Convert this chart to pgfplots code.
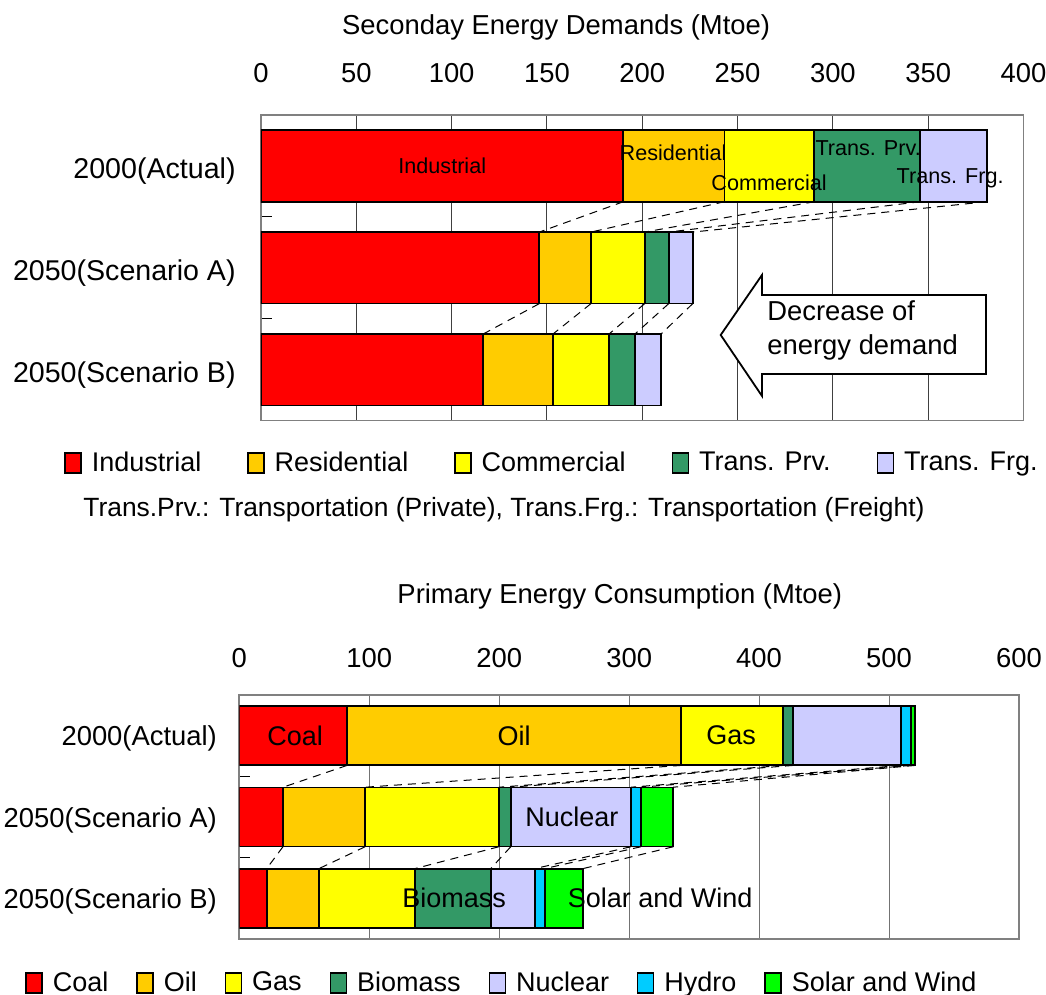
\documentclass[border=0pt]{standalone}
\usepackage{pgfplots}
\usepackage{pgfplotstable}
\pgfplotsset{compat=1.18}
\usepackage{fontspec}
\setmainfont{Liberation Sans}

\definecolor{cRed}{HTML}{FF0000}
\definecolor{cOrange}{HTML}{FFCC00}
\definecolor{cYellow}{HTML}{FFFF00}
\definecolor{cGreen}{HTML}{339966}
\definecolor{cLav}{HTML}{CCCCFF}
\definecolor{cCyan}{HTML}{00CCFF}
\definecolor{cLime}{HTML}{00FF00}

\newcommand{\bigfont}{\fontsize{13.7}{16}\selectfont}
\newcommand{\catfont}{\fontsize{14.3}{17}\selectfont}
\newcommand{\legfont}{\fontsize{13.5}{16}\selectfont}
\newcommand{\smallfont}{\fontsize{10.8}{13}\selectfont}

% Secondary energy demand (Mtoe); cat: 0 = 2000, 1 = 2050 A, 2 = 2050 B
\pgfplotstableread{
cat Industrial Residential Commercial TransPrv TransFrg
0   190.1      53.0        47.2       55.6     34.8
1   146.0      27.1        28.2       12.6     12.6
2   116.6      36.6        29.4       13.6     13.7
}\secondary

% Primary energy consumption (Mtoe)
\pgfplotstableread{
cat Coal  Oil   Gas   Biomass Nuclear Hydro Solar
0   82.9  257.1 78.6  7.6     83.2    7.6   3.1
1   33.6  63.2  102.9 9.2     92.4    7.7   24.9
2   21.1  40.3  73.9  58.2    34.1    7.7   29.3
}\primary

\pgfplotsset{
  framebase/.style={
    scale only axis,
    y dir=reverse,
    ymin=-0.5, ymax=2.5,
    xmin=0,
  },
  energybase/.style={
    framebase,
    xbar stacked,
    axis line style={black!50, line width=0.8pt},
    xmajorgrids,
    major grid style={black!75, line width=0.5pt},
    xticklabel pos=upper,
    xtick style={draw=none},
    xticklabel style={anchor=center, font=\bigfont},
    /pgf/number format/assume math mode=true,
    ytick={0.5,1.5,2.5}, yticklabels={},
    ytick pos=left, tick align=inside,
    major tick length=5.5pt,
    ytick style={black, line width=0.6pt},
    extra y ticks={0,1,2},
    extra y tick labels={2000(Actual),2050(Scenario A),2050(Scenario B)},
    extra y tick style={major tick length=0pt},
    yticklabel style={anchor=east, inner sep=0pt, font=\bigfont},
    every axis title shift=0pt,
    title style={font=\bigfont, anchor=center},
    every axis plot/.append style={draw=black, line width=0.9pt},
    legend image code/.code={\draw[#1, draw=black, line width=0.7pt] (0pt,-5pt) rectangle (8pt,5pt);},
    legend style={draw=none, fill=none, inner sep=0pt, anchor=west, font=\legfont,
      /tikz/every odd column/.append style={column sep=3pt}},
  },
  overlaybase/.style={
    framebase,
    hide axis,
    clip=false,
  },
  connector/.style={black, line width=0.5pt, dash pattern=on 4pt off 3pt, unbounded coords=jump},
}

\begin{document}
\begin{tikzpicture}
\path[use as bounding box] (0,0) rectangle (523pt,497.5pt);

% ---------- Secondary energy demands ----------
\begin{axis}[
  energybase,
  at={(130.5pt,287.15pt)}, anchor=south west,
  width=381.25pt, height=152.85pt,
  xmax=400, xtick={0,50,...,400},
  bar width=35.75pt,
  xticklabel style={yshift=21pt},
  yticklabel style={xshift=-12.5pt, yshift=-2.5pt, font=\catfont},
  title={Seconday Energy Demands (Mtoe)},
  title style={at={(axis description cs:0.387,1.288)}},
  legend columns=5,
  legend style={at={(axis description cs:-0.2584,-0.1384)},
    /tikz/every even column/.append style={column sep=21pt}},
]
\addplot[fill=cRed]    table[x=Industrial,  y=cat] {\secondary};
\addplot[fill=cOrange] table[x=Residential, y=cat] {\secondary};
\addplot[fill=cYellow] table[x=Commercial,  y=cat] {\secondary};
\addplot[fill=cGreen]  table[x=TransPrv,    y=cat] {\secondary};
\addplot[fill=cLav]    table[x=TransFrg,    y=cat] {\secondary};
\legend{Industrial, Residential, Commercial, Trans. Prv., Trans. Frg.}
\end{axis}

% links between segment ends, and segment names
\begin{axis}[
  overlaybase,
  at={(130.5pt,287.15pt)}, anchor=south west,
  width=381.25pt, height=152.85pt,
  xmax=400,
]
\addplot[connector] coordinates {
  (190.1,0.351) (146.0,0.649) (0,nan)
  (243.1,0.351) (173.1,0.649) (0,nan)
  (290.3,0.351) (201.3,0.649) (0,nan)
  (345.9,0.351) (213.9,0.649) (0,nan)
  (380.7,0.351) (226.5,0.649) (0,nan)
  (146.0,1.351) (116.6,1.649) (0,nan)
  (173.1,1.351) (153.2,1.649) (0,nan)
  (201.3,1.351) (182.6,1.649) (0,nan)
  (213.9,1.351) (196.2,1.649) (0,nan)
  (226.5,1.351) (209.9,1.649)
};
\node[font=\smallfont] at (axis cs:95.1,0)     {Industrial};
\node[font=\smallfont] at (axis cs:216.2,-0.127) {Residential};
\node[font=\smallfont] at (axis cs:266.5,0.167)  {Commercial};
\node[font=\smallfont] at (axis cs:318.5,-0.176) {Trans. Prv.};
\node[font=\smallfont] at (axis cs:361.5,0.118)  {Trans. Frg.};
\end{axis}

% block arrow
\draw[fill=white, draw=black, line width=0.9pt, line join=miter]
  (493pt,350pt) -- (381pt,350pt) -- (381pt,360pt) -- (360.35pt,330pt)
  -- (381pt,299.5pt) -- (381pt,310.5pt) -- (493pt,310.5pt) -- cycle;
\node[anchor=west, inner sep=0pt, align=left, font=\fontsize{13.7}{17}\selectfont]
  at (383.5pt,332.5pt) {Decrease of\\energy demand};

\node[anchor=west, inner sep=0pt, font=\fontsize{13.2}{16}\selectfont]
  at (41.5pt,242.5pt) {Trans.Prv.: Transportation (Private), Trans.Frg.: Transportation (Freight)};

% ---------- Primary energy consumption ----------
\begin{axis}[
  energybase,
  at={(119.65pt,28pt)}, anchor=south west,
  width=389.85pt, height=122pt,
  xmax=600, xtick={0,100,...,600},
  bar width=29.5pt,
  major grid style={black!55},
  xticklabel style={yshift=18.5pt},
  yticklabel style={xshift=-11pt, yshift=-1.5pt},
  title={Primary Energy Consumption (Mtoe)},
  title style={at={(axis description cs:0.488,1.402)}},
  legend columns=7,
  legend style={at={(axis description cs:-0.2748,-0.1803)},
    /tikz/every even column/.append style={column sep=12pt}},
]
\addplot[fill=cRed]    table[x=Coal,    y=cat] {\primary};
\addplot[fill=cOrange] table[x=Oil,     y=cat] {\primary};
\addplot[fill=cYellow] table[x=Gas,     y=cat] {\primary};
\addplot[fill=cGreen]  table[x=Biomass, y=cat] {\primary};
\addplot[fill=cLav]    table[x=Nuclear, y=cat] {\primary};
\addplot[fill=cCyan]   table[x=Hydro,   y=cat] {\primary};
\addplot[fill=cLime]   table[x=Solar,   y=cat] {\primary};
\legend{Coal, Oil, Gas, Biomass, Nuclear, Hydro, Solar and Wind}
\end{axis}

\begin{axis}[
  overlaybase,
  at={(119.65pt,28pt)}, anchor=south west,
  width=389.85pt, height=122pt,
  xmax=600,
]
\addplot[connector] coordinates {
  (82.9,0.366)  (33.6,0.634)  (0,nan)
  (340.0,0.366) (96.8,0.634)  (0,nan)
  (418.6,0.366) (199.7,0.634) (0,nan)
  (426.2,0.366) (208.9,0.634) (0,nan)
  (509.4,0.366) (301.3,0.634) (0,nan)
  (517.0,0.366) (309.0,0.634) (0,nan)
  (520.1,0.366) (333.9,0.634) (0,nan)
  (33.6,1.366)  (21.1,1.634)  (0,nan)
  (96.8,1.366)  (61.4,1.634)  (0,nan)
  (199.7,1.366) (135.3,1.634) (0,nan)
  (208.9,1.366) (193.5,1.634) (0,nan)
  (301.3,1.366) (227.6,1.634) (0,nan)
  (309.0,1.366) (235.3,1.634) (0,nan)
  (333.9,1.366) (264.6,1.634)
};
\node[font=\legfont] at (axis cs:42.9,0)  {Coal};
\node[font=\legfont] at (axis cs:211.5,0) {Oil};
\node[font=\legfont] at (axis cs:378.5,0) {Gas};
\node[font=\legfont] at (axis cs:256,1)   {Nuclear};
\node[font=\legfont] at (axis cs:165.3,2) {Biomass};
\node[font=\legfont] at (axis cs:323.8,2) {Solar and Wind};
\end{axis}
\end{tikzpicture}
\end{document}
